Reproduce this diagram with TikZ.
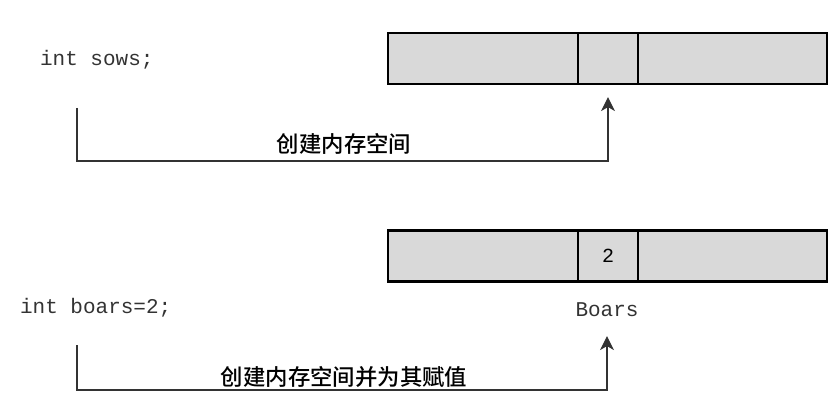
\documentclass[tikz,border=0pt]{standalone}
\usepackage{fontspec}
\setmonofont{Liberation Mono}
\newfontfamily\cjk{Noto Sans CJK SC Medium}
\usetikzlibrary{arrows.meta,positioning}

\begin{document}
\begin{tikzpicture}[
            x=0.5pt, y=-0.5pt,
            cell/.style={draw,line width=1.1pt,fill=black!15,minimum height=25.5pt,inner sep=0pt,font=\ttfamily\fontsize{10}{12}\selectfont},
            code/.style={anchor=west,font=\ttfamily\fontsize{10.5}{12}\selectfont,text=black!80},
            note/.style={font=\cjk\fontsize{11.2}{13}\selectfont},
            conn/.style={draw,line width=0.6pt,black!80,-{Stealth[length=7pt,width=7pt,inset=2pt]}},
        ]
            \useasboundingbox (0,0) rectangle (835,401);

            % memory before: int sows;
            \node[cell,minimum width=95pt] (c1a) at (483,58.5) {};
            \node[cell,minimum width=30pt] (c1b) at (608,58.5) {};
            \node[cell,minimum width=94.5pt] (c1c) at (732.5,58.5) {};
            \node[code] (sows) at (33,60) {int sows;};
            \coordinate (s1) at (77,108);
            \coordinate (k1) at (77,161);
            \path[conn,shorten >=6pt] (s1) -- (k1) -| (c1b.south);
            \node[note] (n1) at (344,144) {创建内存空间};

            % memory after: int boars=2;
            \node[cell,minimum width=95pt] (c2a) at (483,256) {};
            \node[cell,minimum width=30pt] (c2b) at (608,256) {2};
            \node[cell,minimum width=94.5pt] (c2c) at (732.5,256) {};
            \node[code] (boars) at (13,308) {int boars=2;};
            \node[code,anchor=center] (name) at (607,310) {Boars};
            \coordinate (s2) at (77,345);
            \coordinate (k2) at (77,390);
            \path[conn,shorten >=6pt] (s2) -- (k2) -| (name.south);
            \node[note] (n2) at (344,377) {创建内存空间并为其赋值};
        \end{tikzpicture}
\end{document}
